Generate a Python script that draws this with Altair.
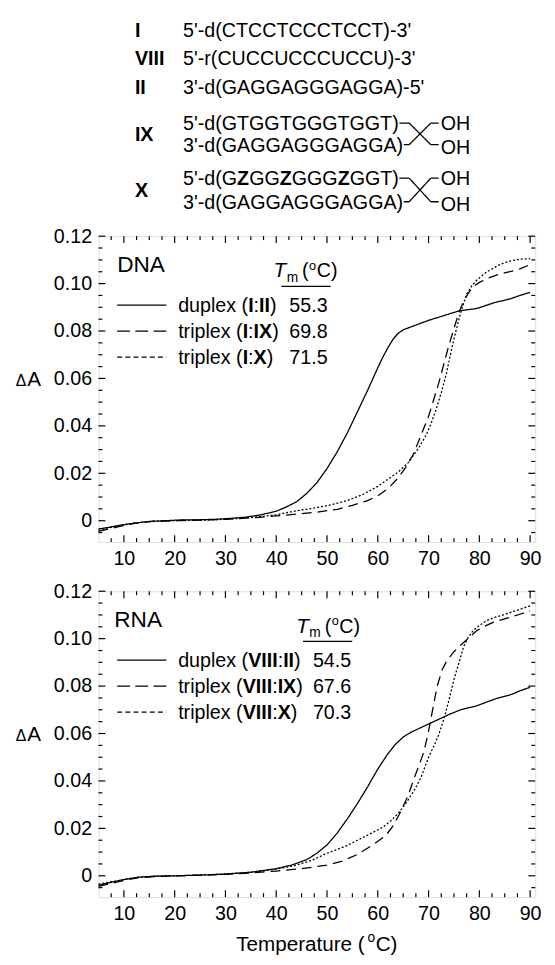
import altair as alt
import pandas as pd

FONT = "Liberation Sans"
INK = "#000000"

# ---------------- data ----------------
DNA_DUPLEX_T = [5, 7, 9, 11, 13, 15, 18, 21, 25, 28, 31, 34, 37, 40, 42, 44, 46, 48, 50, 52, 54, 56, 58, 60,
                61, 62, 63, 64, 65, 66.6, 70, 73, 76, 79.5, 83, 86, 88, 90]
DNA_DUPLEX_A = [-0.0035, -0.0028, -0.002, -0.0013, -0.0008, -0.0003, 0.0, 0.0003, 0.0004, 0.0006, 0.001, 0.0015,
                0.0025, 0.004, 0.0058, 0.008, 0.0115, 0.016, 0.022, 0.029, 0.037, 0.046, 0.055, 0.0645,
                0.069, 0.073, 0.0765, 0.079, 0.0805, 0.0818, 0.0845, 0.0865, 0.0885, 0.0895, 0.092, 0.0935,
                0.095, 0.0963]

DNA_TRIPLEX_IX_T = [5, 7, 9, 11, 13, 16, 20, 25, 30, 35, 40, 44, 48, 52, 55, 58, 60, 62, 64, 65.5, 67, 68.5,
                    70, 71, 72, 73, 74, 75, 76, 77, 78, 79, 80, 82, 84, 86, 88, 90]
DNA_TRIPLEX_IX_A = [-0.0045, -0.0035, -0.0025, -0.0015, -0.0008, -0.0002, 0.0, 0.0003, 0.0006, 0.0012, 0.002,
                    0.0028, 0.0036, 0.0048, 0.0065, 0.0085, 0.0105, 0.0135, 0.018, 0.0225, 0.028, 0.036,
                    0.044, 0.051, 0.058, 0.066, 0.074, 0.081, 0.088, 0.093, 0.0965, 0.099, 0.1005, 0.1025,
                    0.104, 0.105, 0.1062, 0.108]

DNA_TRIPLEX_X_T = [5, 7, 9, 11, 13, 16, 20, 25, 30, 35, 40, 44, 48, 51, 54, 57, 60, 62, 64, 66, 68, 69.5,
                   70.5, 71.5, 72.5, 73.5, 74.5, 75.5, 76.5, 77.5, 78.5, 79.5, 81.5, 84, 86, 88, 90]
DNA_TRIPLEX_X_A = [-0.004, -0.003, -0.0022, -0.0014, -0.0008, -0.0003, 0.0, 0.0002, 0.0006, 0.0013, 0.0025,
                   0.0042, 0.0055, 0.0068, 0.0085, 0.011, 0.0145, 0.0175, 0.0205, 0.0245, 0.0305, 0.036,
                   0.041, 0.047, 0.054, 0.062, 0.072, 0.081, 0.089, 0.0956, 0.099, 0.1015, 0.105, 0.108,
                   0.1095, 0.1103, 0.1105]

RNA_DUPLEX_T = [5, 7, 9, 11, 13, 16, 20, 25, 30, 35, 40, 43, 46, 48, 50, 52, 54, 56, 58, 60, 62, 63.5, 65,
                66.5, 68, 70, 72, 74, 76.3, 79.5, 83, 86.5, 88, 90]
RNA_DUPLEX_A = [-0.004, -0.003, -0.002, -0.0012, -0.0006, -0.0002, 0.0, 0.0003, 0.0007, 0.0015, 0.003, 0.0045,
                0.0068, 0.0095, 0.013, 0.018, 0.024, 0.0305, 0.0375, 0.045, 0.0515, 0.0555, 0.0585, 0.0605,
                0.062, 0.064, 0.066, 0.068, 0.070, 0.0717, 0.0745, 0.0766, 0.078, 0.0795]

RNA_TRIPLEX_IX_T = [5, 7, 9, 11, 13, 16, 20, 25, 30, 35, 40, 45, 50, 53, 56, 59, 61.5, 63, 64.5, 66, 67.2,
                    68.2, 69.1, 70, 70.8, 71.7, 72.7, 73.7, 75, 76.3, 78, 79.5, 81, 82.7, 86, 88, 90]
RNA_TRIPLEX_IX_A = [-0.0045, -0.0035, -0.0025, -0.0015, -0.0008, -0.0003, 0.0, 0.0002, 0.0006, 0.0012, 0.002,
                    0.003, 0.0045, 0.0062, 0.009, 0.013, 0.0168, 0.021, 0.027, 0.034, 0.0414, 0.047, 0.0524,
                    0.061, 0.070, 0.08, 0.087, 0.091, 0.0945, 0.0972, 0.1005, 0.1034, 0.1052, 0.1069, 0.109,
                    0.1103, 0.1117]

RNA_TRIPLEX_X_T = [5, 7, 9, 11, 13, 16, 20, 25, 30, 35, 40, 44, 47, 50, 53.6, 56, 58.8, 61, 62.7, 64.3,
                   65.9, 67.3, 68.5, 70, 71, 72, 73, 74, 75, 76, 76.9, 77.8, 78.8, 80, 81.4, 83, 84.7, 86.5,
                   88, 90]
RNA_TRIPLEX_X_A = [-0.0035, -0.0027, -0.002, -0.0012, -0.0006, -0.0002, 0.0, 0.0003, 0.0008, 0.0015, 0.0028,
                   0.0045, 0.0065, 0.0095, 0.0124, 0.015, 0.018, 0.0205, 0.0234, 0.027, 0.0317, 0.0365,
                   0.0414, 0.05, 0.0545, 0.0595, 0.066, 0.074, 0.0828, 0.090, 0.0966, 0.1005, 0.1034, 0.1055,
                   0.1076, 0.109, 0.110, 0.1113, 0.1124, 0.1138]

TM_DNA = ["55.3", "69.8", "71.5"]
TM_RNA = ["54.5", "67.6", "70.3"]

X_MAJOR = [10, 20, 30, 40, 50, 60, 70, 80, 90]
X_MINOR = [7.5, 12.5, 15, 17.5, 22.5, 25, 27.5, 32.5, 35, 37.5, 42.5, 45, 47.5, 52.5, 55, 57.5,
           62.5, 65, 67.5, 72.5, 75, 77.5, 82.5, 85, 87.5]
Y_MAJOR = [0, 0.02, 0.04, 0.06, 0.08, 0.10, 0.12]
Y_MINOR = [-0.005, 0.005, 0.01, 0.015, 0.025, 0.03, 0.035, 0.045, 0.05, 0.055, 0.065, 0.07, 0.075,
           0.085, 0.09, 0.095, 0.105, 0.11, 0.115]

# ---------------- layout / style ----------------
W, H = 444, 311
XDOM = [5, 91]
YDOM = [-0.009, 0.12]
FS = 20

DASH_KEYS = ["solid", "dashed", "dotted", "leg_dashed", "leg_dotted"]
DASH_RANGE = [[1, 0], [10, 6], [2, 2], [13, 5.5], [5, 3.3]]
DASH_SCALE = alt.Scale(domain=DASH_KEYS, range=DASH_RANGE)

XSCALE = alt.Scale(domain=XDOM, nice=False, zero=False)
YSCALE = alt.Scale(domain=YDOM, nice=False, zero=False)
X_AXIS = alt.Axis(values=X_MAJOR, title=None, labelFontSize=FS, labelFont=FONT, labelColor=INK,
                  labelPadding=7, ticks=False, domain=False, grid=False, labelFlush=False,
                  labelOverlap=False, format="d")
Y_AXIS = alt.Axis(values=Y_MAJOR, title=None, labelFontSize=FS, labelFont=FONT, labelColor=INK,
                  labelPadding=7, ticks=False, domain=False, grid=False, labelFlush=False,
                  labelOverlap=False,
                  labelExpr="datum.value == 0 ? '0' : format(datum.value, '.2f')")

# Arial / Liberation Sans advance widths (1/1000 em)
W_REG = {" ": 278, "(": 333, ")": 333, ":": 278, "-": 333, "'": 191, ".": 278,
         "0": 556, "1": 556, "2": 556, "3": 556, "4": 556, "5": 556, "6": 556, "7": 556, "8": 556, "9": 556,
         "a": 556, "c": 500, "d": 556, "e": 556, "i": 222, "l": 222, "m": 833, "o": 556, "p": 556,
         "r": 333, "t": 278, "u": 556, "x": 500,
         "A": 667, "C": 722, "D": 722, "G": 778, "H": 722, "I": 278, "N": 722, "O": 778, "R": 722,
         "T": 611, "U": 722, "V": 667, "X": 667, "Z": 611, "\u0394": 612}
W_BOLD = {"I": 278, "V": 667, "X": 667, "Z": 611, ":": 333}


def text_width(s, size, st):
    tbl = W_BOLD if st == "b" else {}
    return sum(tbl.get(c, W_REG.get(c, 556)) for c in s) * size / 1000.0


def add_run(rows, pieces, x, y, size=FS):
    for txt, st in pieces:
        rows.append({"px": x, "py": y, "text": txt, "size": size, "st": st})
        x += text_width(txt, size, st)
    return x


def text_layers(rows):
    df = pd.DataFrame(rows)
    out = []
    for st, weight, fstyle in (("n", "normal", "normal"), ("b", "bold", "normal"), ("i", "normal", "italic")):
        sub = df[df.st == st]
        if sub.empty:
            continue
        out.append(
            alt.Chart(sub).mark_text(align="left", baseline="alphabetic", font=FONT, fontWeight=weight,
                                     fontStyle=fstyle, color=INK).encode(
                x=alt.X("px:Q", scale=None), y=alt.Y("py:Q", scale=None), text="text:N",
                size=alt.Size("size:Q", scale=None)))
    return out


def seg_layer(segs, width=1.3):
    df = pd.DataFrame(segs, columns=["x", "y", "x2", "y2", "dash"])
    return alt.Chart(df).mark_rule(color=INK, strokeWidth=width).encode(
        x=alt.X("x:Q", scale=None), y=alt.Y("y:Q", scale=None), x2="x2:Q", y2="y2:Q",
        strokeDash=alt.StrokeDash("dash:N", scale=DASH_SCALE, legend=None))


def tick_layers():
    out = []
    for vals, ln in ((Y_MAJOR, 7), (Y_MINOR, 4)):
        d = pd.DataFrame({"v": vals})
        for x0, x1 in ((0, ln), (W - ln, W)):
            out.append(alt.Chart(d).mark_rule(color=INK, strokeWidth=1.2).encode(
                y=alt.Y("v:Q", scale=YSCALE, axis=Y_AXIS), x=alt.value(x0), x2=alt.value(x1)))
    for vals, ln in ((X_MAJOR, 7), (X_MINOR, 4)):
        d = pd.DataFrame({"t": vals})
        for y0, y1 in ((H - ln, H), (0, ln)):
            out.append(alt.Chart(d).mark_rule(color=INK, strokeWidth=1.2).encode(
                x=alt.X("t:Q", scale=XSCALE, axis=X_AXIS), y=alt.value(y0), y2=alt.value(y1)))
    return out


def curve_layer(ts, as_):
    frames = [pd.DataFrame({"T": t, "A": a, "dash": k}) for k, t, a in zip(["solid", "dashed", "dotted"], ts, as_)]
    df = pd.concat(frames, ignore_index=True)
    return alt.Chart(df).mark_line(color=INK, strokeWidth=1.3).encode(
        x=alt.X("T:Q", scale=XSCALE, axis=X_AXIS),
        y=alt.Y("A:Q", scale=YSCALE, axis=Y_AXIS),
        strokeDash=alt.StrokeDash("dash:N", scale=DASH_SCALE, legend=None),
        detail="dash:N", order="T:Q")


def y_at(v):
    return H * (YDOM[1] - v) / (YDOM[1] - YDOM[0])


def panel_annotations(name, name_x, tm_x, ul, num_x, row_pieces, tms):
    rows, segs = [], []
    add_run(rows, [(name, "n")], name_x, 36, size=23)
    # T_m (oC)
    x = add_run(rows, [("T", "i")], tm_x, 42, size=21)
    x = add_run(rows, [("m", "n")], x + 0.5, 47, size=14)
    x = add_run(rows, [("(", "n")], x + 4, 42)
    x = add_run(rows, [("o", "n")], x + 0.5, 34, size=13)
    add_run(rows, [("C)", "n")], x + 0.5, 42)
    segs.append((ul[0], 51, ul[1], 51, "solid"))
    for i, (pieces, tm, dash) in enumerate(zip(row_pieces, tms, ["solid", "leg_dashed", "leg_dotted"])):
        c = 70 + 26.5 * i
        segs.append((19, c, 69, c, dash))
        add_run(rows, pieces, 81, c + 7)
        add_run(rows, [(tm, "n")], num_x, c + 7)
    # Delta A
    yb = y_at(0.06) + 7.5
    add_run(rows, [("\u0394", "n")], -84, yb, size=16)
    add_run(rows, [("A", "n")], -72.5, yb, size=21)
    return rows, segs


def header_annotations():
    rows, segs = [], []
    lab_x, seq_x = 37, 86
    for lab, yb in (("I", -202), ("VIII", -174), ("II", -145), ("IX", -97), ("X", -40)):
        add_run(rows, [(lab, "b")], lab_x, yb)
    add_run(rows, [("5'-d(CTCCTCCCTCCT)-3'", "n")], seq_x, -202)
    add_run(rows, [("5'-r(CUCCUCCCUCCU)-3'", "n")], seq_x, -174)
    add_run(rows, [("3'-d(GAGGAGGGAGGA)-5'", "n")], seq_x, -145)
    pairs = [
        ([("5'-d(GTGGTGGGTGGT)", "n")], [("3'-d(GAGGAGGGAGGA)", "n")], -108, -86),
        ([("5'-d(G", "n"), ("Z", "b"), ("GG", "n"), ("Z", "b"), ("GGG", "n"), ("Z", "b"), ("GGT)", "n")],
         [("3'-d(GAGGAGGGAGGA)", "n")], -52, -28),
    ]
    for top, bot, yt, yb in pairs:
        e1 = add_run(rows, top, seq_x, yt)
        e2 = add_run(rows, bot, seq_x, yb)
        ct, cb = yt - 7, yb - 7
        xa = max(e1, e2) + 6
        xb = xa + 22
        segs += [(e1 + 0.5, ct, xa, ct, "solid"), (e2 + 0.5, cb, xa, cb, "solid"),
                 (xa, ct, xb, cb, "solid"), (xa, cb, xb, ct, "solid"),
                 (xb, ct, xb + 8, ct, "solid"), (xb, cb, xb + 8, cb, "solid")]
        add_run(rows, [("OH", "n")], xb + 10, yt)
        add_run(rows, [("OH", "n")], xb + 10, yb + 2)
    return rows, segs


# ---------------- DNA panel ----------------
dna_rows, dna_segs = panel_annotations(
    "DNA", 19, 178, (186, 236), 194,
    [[("duplex (", "n"), ("I", "b"), (":", "n"), ("II", "b"), (")", "n")],
     [("triplex (", "n"), ("I", "b"), (":", "n"), ("IX", "b"), (")", "n")],
     [("triplex (", "n"), ("I", "b"), (":", "n"), ("X", "b"), (")", "n")]],
    TM_DNA)
h_rows, h_segs = header_annotations()
dna = alt.layer(
    *tick_layers(),
    curve_layer([DNA_DUPLEX_T, DNA_TRIPLEX_IX_T, DNA_TRIPLEX_X_T],
                [DNA_DUPLEX_A, DNA_TRIPLEX_IX_A, DNA_TRIPLEX_X_A]),
    seg_layer(dna_segs + h_segs),
    *text_layers(dna_rows + h_rows),
).properties(width=W, height=H)

# ---------------- RNA panel ----------------
rna_rows, rna_segs = panel_annotations(
    "RNA", 16, 201, (208, 258), 218,
    [[("duplex (", "n"), ("VIII", "b"), (":", "n"), ("II", "b"), (")", "n")],
     [("triplex (", "n"), ("VIII", "b"), (":", "n"), ("IX", "b"), (")", "n")],
     [("triplex (", "n"), ("VIII", "b"), (":", "n"), ("X", "b"), (")", "n")]],
    TM_RNA)
# x axis title: Temperature (oC)
xt = add_run(rna_rows, [("Temperature (", "n")], 140, 366, size=21)
xt = add_run(rna_rows, [("o", "n")], xt + 0.5, 357, size=14)
add_run(rna_rows, [("C)", "n")], xt + 0.5, 366, size=21)

rna = alt.layer(
    *tick_layers(),
    curve_layer([RNA_DUPLEX_T, RNA_TRIPLEX_IX_T, RNA_TRIPLEX_X_T],
                [RNA_DUPLEX_A, RNA_TRIPLEX_IX_A, RNA_TRIPLEX_X_A]),
    seg_layer(rna_segs),
    *text_layers(rna_rows),
).properties(width=W, height=H)

chart = alt.vconcat(dna, rna, spacing=50, bounds="flush").properties(
    padding={"left": 7, "top": 5, "right": 5, "bottom": 0}
).configure_view(stroke=INK, strokeWidth=2.5).configure(background="white")

chart.save("out.html", embed_options={"renderer": "svg", "actions": False})
